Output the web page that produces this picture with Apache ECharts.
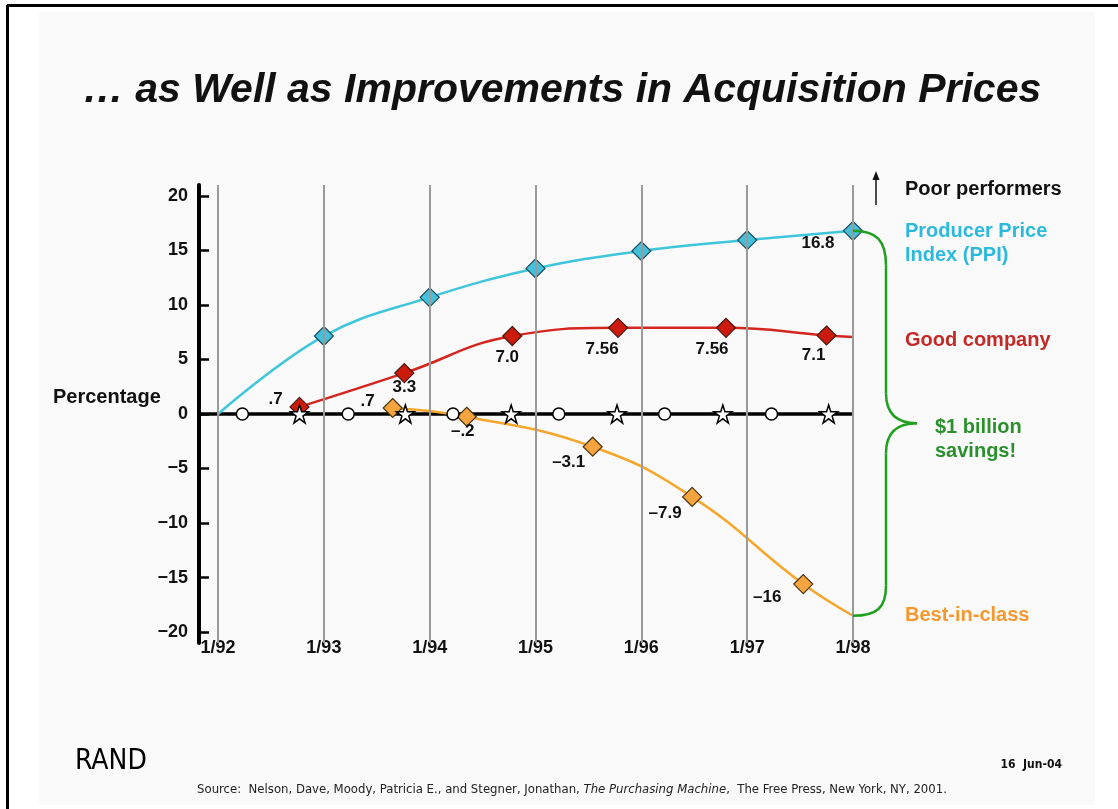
<!DOCTYPE html>
<html>
<head>
<meta charset="utf-8">
<title>Acquisition Prices</title>
<script src="https://cdn.jsdelivr.net/npm/echarts@6/dist/echarts.min.js"></script>
<style>
  html, body { margin: 0; padding: 0; background: #fff; }
  #main { width: 1118px; height: 809px; }
</style>
</head>
<body>
<div id="main"></div>
<script>
// axis values
const years = [1992, 1993, 1994, 1995, 1996, 1997, 1998]
const yTicks = [-20, -15, -10, -5, 0, 5, 10, 15, 20]

// Producer Price Index (PPI)
const ppiX = [1992, 1993, 1994, 1995, 1996, 1997, 1998]
const ppiY = [0, 7.15, 10.7, 13.35, 14.95, 15.95, 16.8]
const ppiLabels = ['', '', '', '', '', '', '16.8']

// Good company
const goodX = [1992.77, 1993.76, 1994.78, 1995.78, 1996.8, 1997.75, 1998]
const goodY = [0.65, 3.75, 7.15, 7.9, 7.9, 7.2, 7.05]
const goodLabels = ['.7', '3.3', '7.0', '7.56', '7.56', '7.1', '']

// Best-in-class
const bestX = [1993.65, 1994.35, 1995.54, 1996.48, 1997.53, 1998]
const bestY = [0.55, -0.25, -3.0, -7.6, -15.6, -18.5]
const bestLabels = ['.7', '–.2', '–3.1', '–7.9', '–16', '']

// baseline markers (zero line)
const circleX = [1992.23, 1993.23, 1994.22, 1995.22, 1996.22, 1997.23]
const starX = [1992.77, 1993.77, 1994.77, 1995.77, 1996.77, 1997.77]

const FONT = '"Liberation Sans", Arial, sans-serif'
const NARROW = '"Liberation Sans Narrow", "DejaVu Sans Condensed", "Liberation Sans", sans-serif'
const STAR = 'path://M50,2 L61,36 L97,36 L68,57 L79,92 L50,71 L21,92 L32,57 L3,36 L39,36 Z'

// label offsets from the marker centre, per point
const goodOffsets = [[-24, -8], [0, 14], [-5, 21], [-16, 21], [-14, 21], [-13, 20], [0, 0]]
const bestOffsets = [[-25, -7], [-4, 15], [-24, 16], [-27, 16], [-36, 13], [0, 0]]
const ppiOffsets = [[0, 0], [0, 0], [0, 0], [0, 0], [0, 0], [0, 0], [-35, 13]]

function buildData (xs, ys, labels, offsets, lastNoSymbol, firstNoSymbol) {
  return xs.map((x, i) => {
    const item = {
      value: [x, ys[i]],
      label: {
        show: !!labels[i],
        formatter: labels[i],
        position: 'inside',
        offset: offsets[i],
        color: '#111',
        fontFamily: FONT,
        fontWeight: 'bold',
        fontSize: 17
      }
    }
    if ((lastNoSymbol && i === xs.length - 1) || (firstNoSymbol && i === 0)) {
      item.symbol = 'none'
    }
    return item
  })
}

const myChart = echarts.init(document.getElementById('main'))

const option = {
  backgroundColor: '#ffffff',
  animation: false,
  grid: {
    left: 199,
    right: 1118 - 853,
    top: 185,
    bottom: 809 - 643,
    containLabel: false
  },
  xAxis: {
    type: 'value',
    min: 1991.82,
    max: 1998,
    axisLine: { show: false },
    axisTick: { show: false },
    splitLine: { show: false },
    axisLabel: {
      customValues: years,
      margin: -4,
      color: '#111',
      fontFamily: FONT,
      fontWeight: 'bold',
      fontSize: 18,
      formatter: v => '1/' + String(Math.round(v)).slice(2)
    }
  },
  yAxis: {
    type: 'value',
    min: -21,
    max: 21,
    axisLine: { show: true, lineStyle: { color: '#000', width: 4 } },
    axisTick: {
      show: true,
      inside: true,
      length: 10,
      customValues: yTicks,
      lineStyle: { color: '#000', width: 2.5 }
    },
    splitLine: { show: false },
    axisLabel: {
      customValues: yTicks,
      margin: 11,
      color: '#111',
      fontFamily: FONT,
      fontWeight: 'bold',
      fontSize: 18,
      formatter: v => (v < 0 ? '−' + Math.abs(v) : String(v))
    }
  },
  series: [
    {
      // vertical year lines
      name: 'years',
      type: 'line',
      data: [],
      z: 1,
      silent: true,
      markLine: {
        silent: true,
        symbol: 'none',
        label: { show: false },
        lineStyle: { color: '#9a9a9a', width: 2, type: 'solid' },
        data: years.map(y => ({ xAxis: y }))
      }
    },
    {
      name: 'Baseline',
      type: 'line',
      z: 3,
      data: [[1991.82, 0], [1997.99, 0]],
      symbol: 'none',
      lineStyle: { color: '#000', width: 3.5 }
    },
    {
      name: 'PPI',
      type: 'line',
      z: 4,
      smooth: 0.4,
      data: buildData(ppiX, ppiY, ppiLabels, ppiOffsets, false, true),
      symbol: 'diamond',
      symbolSize: 19,
      lineStyle: { color: '#3fc6dc', width: 2.5 },
      itemStyle: { color: '#45c0da', borderColor: '#1d4a5a', borderWidth: 1.2 }
    },
    {
      name: 'Good company',
      type: 'line',
      z: 4,
      smooth: 0.45,
      data: buildData(goodX, goodY, goodLabels, goodOffsets, true, false),
      symbol: 'diamond',
      symbolSize: 19,
      lineStyle: { color: '#d4261e', width: 2.5 },
      itemStyle: { color: '#cc1a0c', borderColor: '#4a1510', borderWidth: 1.2 }
    },
    {
      name: 'Best-in-class',
      type: 'line',
      z: 4,
      smooth: 0.45,
      data: buildData(bestX, bestY, bestLabels, bestOffsets, true, false),
      symbol: 'diamond',
      symbolSize: 19,
      lineStyle: { color: '#f7a62c', width: 2.5 },
      itemStyle: { color: '#f6a43e', borderColor: '#4a3410', borderWidth: 1.2 }
    },
    {
      name: 'circles',
      type: 'scatter',
      z: 5,
      data: circleX.map(x => [x, 0]),
      symbol: 'circle',
      symbolSize: 12,
      itemStyle: { color: '#fff', borderColor: '#000', borderWidth: 1.5, opacity: 1 }
    },
    {
      name: 'stars',
      type: 'scatter',
      z: 5,
      data: starX.map(x => [x, 0]),
      symbol: STAR,
      symbolSize: 18,
      itemStyle: { color: '#fff', borderColor: '#000', borderWidth: 1.5, opacity: 1 }
    }
  ]
}

myChart.setOption(option)

// annotations: frame, titles, legend texts and the brace
const braceTop = myChart.convertToPixel({ seriesIndex: 2 }, [1998, ppiY[ppiY.length - 1]])
const braceBot = myChart.convertToPixel({ seriesIndex: 4 }, [1998, bestY[bestY.length - 1]])
const midY = (braceTop[1] + braceBot[1]) / 2
const bx = braceTop[0] + 33
const tip = braceTop[0] + 64
const BRACE = { stroke: '#1fa01f', lineWidth: 2.5, fill: null }

function curve (x1, y1, c1x, c1y, c2x, c2y, x2, y2) {
  return {
    type: 'bezierCurve',
    z: 6,
    shape: { x1: x1, y1: y1, cpx1: c1x, cpy1: c1y, cpx2: c2x, cpy2: c2y, x2: x2, y2: y2 },
    style: BRACE
  }
}
function seg (x1, y1, x2, y2) {
  return { type: 'line', z: 6, shape: { x1: x1, y1: y1, x2: x2, y2: y2 }, style: BRACE }
}

const brace = [
  curve(braceTop[0], braceTop[1], braceTop[0] + 24, braceTop[1], bx, braceTop[1] + 10, bx, braceTop[1] + 35),
  seg(bx, braceTop[1] + 35, bx, midY - 30),
  curve(bx, midY - 30, bx, midY - 8, bx + 12, midY, tip, midY),
  curve(tip, midY, bx + 12, midY, bx, midY + 8, bx, midY + 30),
  seg(bx, midY + 30, bx, braceBot[1] - 30),
  curve(bx, braceBot[1] - 30, bx, braceBot[1] - 8, braceBot[0] + 24, braceBot[1], braceBot[0], braceBot[1])
]

function txt (x, y, text, color, size) {
  return {
    type: 'text',
    x: x,
    y: y,
    style: {
      text: text,
      fill: color,
      fontFamily: FONT,
      fontWeight: 'bold',
      fontSize: size,
      textVerticalAlign: 'middle'
    }
  }
}

myChart.setOption({
  graphic: [
    { type: 'rect', z: -10, shape: { x: 39, y: 12, width: 1056, height: 793 }, style: { fill: '#fafafa' } },
    { type: 'line', z: 10, shape: { x1: 7, y1: 5.5, x2: 1118, y2: 5.5 }, style: { stroke: '#000', lineWidth: 3 } },
    { type: 'line', z: 10, shape: { x1: 7.5, y1: 5, x2: 7.5, y2: 809 }, style: { stroke: '#000', lineWidth: 3 } },
    {
      type: 'text',
      x: 562,
      y: 91,
      style: {
        text: '… as Well as Improvements in Acquisition Prices',
        fill: '#111',
        fontFamily: FONT,
        fontWeight: 'bold',
        fontStyle: 'italic',
        fontSize: 41,
        textAlign: 'center',
        textVerticalAlign: 'middle'
      }
    },
    txt(53, 397, 'Percentage', '#111', 20),
    txt(905, 189, 'Poor performers', '#111', 20),
    txt(905, 231, 'Producer Price', '#2bbadb', 20),
    txt(905, 255, 'Index (PPI)', '#2bbadb', 20),
    txt(905, 340, 'Good company', '#c32a26', 20),
    txt(935, 427, '$1 billion', '#2a902c', 20),
    txt(935, 451, 'savings!', '#2a902c', 20),
    txt(905, 615, 'Best-in-class', '#f5992e', 20),
    { type: 'line', shape: { x1: 876, y1: 205, x2: 876, y2: 178 }, style: { stroke: '#111', lineWidth: 1.5 } },
    { type: 'polygon', shape: { points: [[876, 171], [872.5, 180], [879.5, 180]] }, style: { fill: '#111' } },
    ...brace,
    {
      type: 'text',
      x: 75,
      y: 762,
      style: { text: 'RAND', fill: '#000', fontFamily: NARROW, fontSize: 28, textVerticalAlign: 'middle' }
    },
    {
      type: 'text',
      x: 1062,
      y: 765,
      style: { text: '16  Jun-04', fill: '#111', fontFamily: NARROW, fontWeight: 'bold', fontSize: 12, textAlign: 'right', textVerticalAlign: 'middle' }
    },
    {
      type: 'text',
      x: 572,
      y: 790,
      style: {
        text: 'Source:  Nelson, Dave, Moody, Patricia E., and Stegner, Jonathan, {i|The Purchasing Machine},  The Free Press, New York, NY, 2001.',
        rich: { i: { fontStyle: 'italic', fontFamily: NARROW, fontSize: 13, fill: '#222' } },
        fill: '#222',
        fontFamily: NARROW,
        fontSize: 13,
        textAlign: 'center',
        textVerticalAlign: 'middle'
      }
    }
  ]
})
</script>
</body>
</html>
